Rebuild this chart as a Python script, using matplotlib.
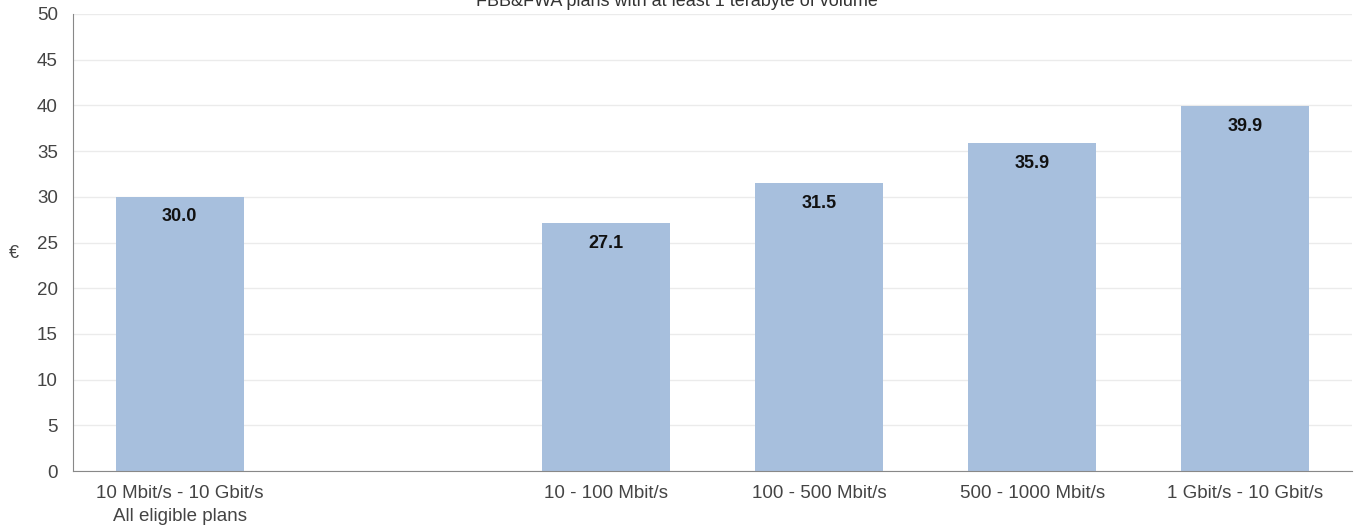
import matplotlib
matplotlib.use("Agg")
import matplotlib.pyplot as plt

categories = ["10 Mbit/s - 10 Gbit/s\nAll eligible plans", "", "10 - 100 Mbit/s",
              "100 - 500 Mbit/s", "500 - 1000 Mbit/s", "1 Gbit/s - 10 Gbit/s"]
values = [30.0, None, 27.1, 31.5, 35.9, 39.9]
title = "FBB&FWA plans with at least 1 terabyte of volume"
yticks = list(range(0, 51, 5))

plt.rcParams['font.family'] = ['Liberation Sans', 'DejaVu Sans']

fig = plt.figure(figsize=(13.54, 5.28), dpi=100)
ax = fig.add_axes([73/1354, 57/528, (1352-73)/1354, (471-14)/528])

xs = [i for i, v in enumerate(values) if v is not None]
vs = [v for v in values if v is not None]
bars = ax.bar(xs, vs, width=0.6, color="#a7bfdd", zorder=2)
for x, v in zip(xs, vs):
    ax.annotate(f"{v:.1f}", xy=(x, v), xytext=(0, -14.5), textcoords="offset points",
                ha="center", va="center", fontsize=13, fontweight="bold", color="#111111")

ax.set_xlim(-0.5, 5.5)
ax.set_ylim(0, 50)
ax.set_yticks(yticks)
ax.set_xticks(range(len(categories)))
ax.set_xticklabels(categories, linespacing=1.45)
ax.tick_params(axis="both", length=0, labelsize=13.5, labelcolor="#444444")
ax.tick_params(axis="x", pad=10)
ax.tick_params(axis="y", pad=11)
ax.grid(axis="y", color="#ebebeb", linewidth=1, zorder=0)
for s in ["top", "right"]:
    ax.spines[s].set_visible(False)
ax.spines["left"].set_color("#888888")
ax.spines["bottom"].set_color("#888888")
fig.text(14/1354, 1 - 253/528, "€", fontsize=13, color="#444444", ha="center", va="center")

fig.text(0.5, 1.0 - 1/528, title, ha="center", va="center", fontsize=13, color="#333333")

fig.savefig("out.png", dpi=100)
